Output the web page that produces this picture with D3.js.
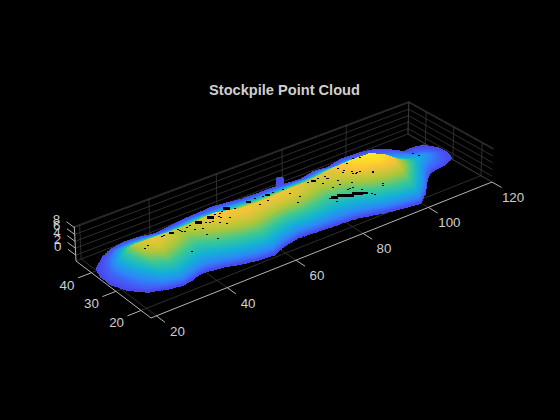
<!DOCTYPE html><html><head><meta charset="utf-8"><style>html,body{margin:0;background:#000}svg{display:block}text{font-family:"Liberation Sans",Arial,sans-serif}</style></head><body><svg id="c" width="560" height="420"></svg>
<script src="https://cdn.jsdelivr.net/npm/d3@7"></script>
<script>
const chartTitle="Stockpile Point Cloud";
const xLim=[18.5,120],yLim=[16.15,46.45],zLim=[-1.7,8.3];
const xTicks=[20,40,60,80,100,120],yTicks=[20,30,40],zTicks=[0,2,4,6,8];
// pile outline on the ground
const frontX=[18.5,20.3,23.5,28,31.9,35.3,37.9,40,44,47.9,52.2,56.5,60.6,65.7,70.8,75,82.7,89.1,95.4,99,103.1,108.3,110.8,115.6,119.4,120.3];
const frontY=[32.5,28.1,24.7,23,22.2,22.9,23.7,23.7,22.9,21.7,20.7,20.2,21.7,22.9,22.5,22.2,21.6,19.7,18.5,18,20.9,26.1,27.8,28.5,30,32.5];
const backX=[18.5,18.6,19.7,23.6,27.2,31.5,35.5,40,49.2,58.6,65.8,70.9,75.7,78.6,83.4,88.4,92.3,97.4,102.6,107,109.8,112.2,115.5,118.1,120.1,120.3];
const backY=[32.5,36.4,39.8,43,44.8,45.6,45.4,44.3,45.6,46.2,44.9,44.7,44.7,44.3,43.8,44.9,44.4,45.6,45.4,44.5,42.5,39.3,39.4,38.7,35.8,32.5];
// crest line of the pile
const ridgeX=[18.5,21,24,26.5,27.9,31.2,35.9,41,44.7,50.1,56,62.6,69.7,78.5,85,90.3,95.7,99,102.8,107.6,113.9,117.8,120.3];
const ridgeY=[34,35.5,36,36,35.2,33.8,34.4,35.4,34.5,33.9,32,32.1,32.4,33.9,34.3,33.3,32.5,30.8,29.8,30.9,33.2,33.3,32.5];
const ridgeZ=[-.6,.2,2.2,4.2,5.6,6.5,5.9,5.2,5.9,6.8,6.7,6.4,6.6,5.7,6.4,7.5,8,7.2,4.8,2.6,1,-.2,-.65];
const edgeZ=-.7;
// cross-section shape: share of crest height at a share of the way from crest to edge
const frontU=[0,.2,.35,.5,.65,.8,.92,.98,1],frontP=[1,.95,.84,.7,.56,.41,.27,.15,0];
const backU=[0,.1,.43,.81,1],backP=[1,.86,.5,.125,0];
// holes in the cloud
const speckX=[79.7,81,81.9,83.1,84.4,85.3,86.6,81.3,83.3,83.8,83.7,84.4,85,86.5,87.9,88.3,79.8,78.7,79.2,92.7,80.4,86.2,88,86.2,92.1,82.2,82.5,88.8,44.7,48.2,53.2,37.5,44,45.3,38.6,29.5,28.3,34.2,34.9,39.3,39.4,39.5,40,41.6,42.3,42.5,44.3,45.9,47.8,50.7,49.7,49.7,50.1,47,59.4,65,78.4,61.4,63.8,70.1,71.2,69.4,69.6,51.6,50.2,48.9,51.7,55.1,61.8,63.7,66.7,77.1,80.1,85.9,89.1,91.4,92.6,89.4,92.3,86.8,88.1,88.6,92.6,82.1,111.8,112.5];
const speckY=[26.1,25.8,25.1,24.7,24.4,23.7,23.3,28.7,28.6,29.9,26.1,26.3,25.9,24.4,22.3,21.8,25.9,26.7,24.8,24.1,31.4,27.7,29.5,31,27.1,32.8,32.1,29,33,33,33.7,33.9,29,26.4,27.5,32.3,31.8,33.3,33.4,33.9,33.2,32.6,32.2,33.4,33.3,31.6,30.8,31.9,31.6,32.7,33.4,31.9,29.3,31.8,33.3,33.2,32.6,31.4,31.4,30.9,28.6,27.2,33,33.2,31.7,30.4,30.2,32.8,33.8,33.2,33.1,33,32.9,32.6,33,33.5,32.4,28.5,27.3,31.3,29.9,29.1,23.9,32,35.2,33.8];
const speckZ=[4,4,4,4,4,4,4,4.8,5,5.6,4.6,4.8,4.8,4.4,4,3.8,3.8,3.8,3.4,4,5,5.2,6.3,6.3,6,5.7,5.6,6.3,6.2,6.6,6.7,5.6,5.3,5,3,6,5.6,6,6,5.8,5.8,5.8,5.8,6,6.1,6,6,6.3,6.3,6.7,6.7,6.6,6,6.2,6.6,6.6,6,6.2,6.2,6.4,6,5.6,6.7,6.7,6.5,6.2,6.4,6.7,6.6,6.5,6.6,6,6.1,6.8,7.2,7.6,7.7,6.6,6.4,6.5,6.4,6.3,3.8,5.8,.8,.6];
const speckS=[3,3,4,4,3,3,2,1,1,1,1,1,1,1,1,1,1,1,1,1,1,1,1,1,1,1,1,1,3,3,3,2,1,1,1,1,1,1,1,1,1,1,1,1,1,1,1,1,1,1,1,1,1,1,2,2,2,1,1,1,1,1,1,1,1,1,1,1,1,1,1,1,1,1,1,1,1,1,1,1,1,1,1,1,1,1];
// stray blue lump behind the crest
const lumpX=[79.3],lumpY=[46.4],lumpZ=[-.6];
// parula colormap
const cmapPos=[0,.127,.25,.38,.52,.67,.85,1];
const cmapCol=["#3e2aa8","#4852f4","#2d87f7","#12b1d6","#37c897","#abc739","#fec338","#f9fb14"];

// ---- camera: maps the unit box to the picture
const corner={F:[151,318],R:[492,182],B:[408,134],L:[76,261]};
const boxH=36,lean=.0075,leanU=300;
const {F,R,B,L}=corner;
const dx1=R[0]-B[0],dx2=L[0]-B[0],sx0=F[0]-R[0]+B[0]-L[0],dy1=R[1]-B[1],dy2=L[1]-B[1],sy0=F[1]-R[1]+B[1]-L[1];
const det=dx1*dy2-dx2*dy1,g=(sx0*dy2-dx2*sy0)/det,h=(dx1*sy0-sx0*dy1)/det;
const a=R[0]-F[0]+g*R[0],b=L[0]-F[0]+h*L[0],d=R[1]-F[1]+g*R[1],e=L[1]-F[1]+h*L[1];
const sX=d3.scaleLinear().domain(xLim).range([0,1]),sY=d3.scaleLinear().domain(yLim).range([0,1]),sZ=d3.scaleLinear().domain(zLim).range([0,1]);
function project(x,y,z){const s=sX(x),t=sY(y),w=sZ(z),W=g*s+h*t+1;
  const u=(a*s+b*t+F[0])/W,v=(d*s+e*t+F[1])/W;
  return [leanU+(u-leanU)*(1+lean*w),v-boxH*w/W];}

const svg=d3.select("#c");
const seg=(G,p,q,col,sw)=>{const A=project(...p),Bq=project(...q);G.append("line").attr("x1",A[0]).attr("y1",A[1]).attr("x2",Bq[0]).attr("y2",Bq[1]).attr("stroke",col).attr("stroke-width",sw);};
const [x0,x1]=xLim,[y0,y1]=yLim,[z0,z1]=zLim;
const gridCol="#3a3a3a",axisCol="#b4b4b4",textCol="#cfcfcf";
const grid=svg.append("g");
xTicks.forEach(t=>{seg(grid,[t,y0,z0],[t,y1,z0],gridCol,.8);seg(grid,[t,y1,z0],[t,y1,z1],gridCol,.8);});
yTicks.forEach(t=>{seg(grid,[x0,t,z0],[x1,t,z0],gridCol,.8);seg(grid,[x1,t,z0],[x1,t,z1],gridCol,.8);});
zTicks.forEach(t=>{seg(grid,[x0,y1,t],[x1,y1,t],gridCol,.8);seg(grid,[x1,y1,t],[x1,y0,t],gridCol,.8);});
seg(grid,[x0,y1,z1],[x1,y1,z1],gridCol,.8);seg(grid,[x1,y1,z1],[x1,y0,z1],gridCol,.8);
seg(grid,[x0,y1,z0],[x1,y1,z0],gridCol,.8);seg(grid,[x1,y1,z0],[x1,y0,z0],gridCol,.8);seg(grid,[x1,y1,z0],[x1,y1,z1],gridCol,.8);

// cloud: sampled far to near, last one into a pixel wins
const yFront=d3.scaleLinear().domain(frontX).range(frontY).clamp(true);
const yBack=d3.scaleLinear().domain(backX).range(backY).clamp(true);
const yRidge=d3.scaleLinear().domain(ridgeX).range(ridgeY).clamp(true);
const zRidge=d3.scaleLinear().domain(ridgeX).range(ridgeZ).clamp(true);
const pFront=d3.scaleLinear().domain(frontU).range(frontP).clamp(true);
const pBack=d3.scaleLinear().domain(backU).range(backP).clamp(true);
const color=d3.scaleLinear().domain(cmapPos).range(cmapCol).clamp(true);
const nBins=96,W0=560,H0=420,buf=new Int16Array(W0*H0).fill(-1);
const bin=z=>Math.max(0,Math.min(nBins-1,Math.round(sZ(z)*(nBins-1))));
for(let x=120.3;x>=18.5;x-=.08){
  const yF=yFront(x),yB=yBack(x),yR=Math.min(yB,Math.max(yF,yRidge(x))),zR=zRidge(x);
  for(let y=yB;y>=yF;y-=.04){
    const p=y>=yR?pBack((y-yR)/Math.max(.01,yB-yR)):pFront((yR-y)/Math.max(.01,yR-yF));
    const z=edgeZ+(zR-edgeZ)*p,c=bin(z),q=project(x,y,z);
    const px=Math.round(q[0]),py=Math.round(q[1]);
    buf[py*W0+px]=c;buf[(py+1)*W0+px]=c;
  }
}
lumpX.forEach((x,i)=>{const q=project(x,lumpY[i],lumpZ[i]);
  svg.append("rect").attr("x",Math.round(q[0])-4).attr("y",Math.round(q[1])-2).attr("width",8).attr("height",10).attr("rx",1.5).attr("fill",color(sZ(lumpZ[i])));});
const runs=d3.range(nBins).map(()=>[]);
for(let r=0;r<H0;r++){let i=0;while(i<W0){const c=buf[r*W0+i];if(c<0){i++;continue;}let j=i;while(j<W0&&buf[r*W0+j]===c)j++;runs[c].push(`M${i} ${r}h${j-i}v1h${i-j}z`);i=j;}}
svg.append("g").attr("shape-rendering","crispEdges").selectAll("path").data(runs).join("path").attr("d",r=>r.join("")).attr("fill",(r,i)=>color(i/(nBins-1)));
// holes
svg.append("g").attr("shape-rendering","crispEdges").selectAll("rect").data(speckX).join("rect")
 .each(function(x,i){const q=project(x,speckY[i],speckZ[i]),s=speckS[i],w=s>1?s*2+1:2,hh=s>1?Math.min(s,3):1;
  d3.select(this).attr("x",Math.round(q[0]-w/2)).attr("y",Math.round(q[1]-hh/2)).attr("width",w).attr("height",hh).attr("fill","#000");});

// axes
const ax=svg.append("g");
seg(ax,[x0,y0,z0],[x1,y0,z0],axisCol,1);seg(ax,[x0,y0,z0],[x0,y1,z0],axisCol,1);seg(ax,[x0,y1,z0],[x0,y1,z1],axisCol,1);
const label=(p,dx,dy,t)=>{const q=project(...p);ax.append("text").attr("x",q[0]+dx).attr("y",q[1]+dy).attr("text-anchor","middle").attr("dominant-baseline","central").attr("font-size","13.33px").attr("fill",textCol).text(t);};
xTicks.forEach(t=>{seg(ax,[t,y0,z0],[t,y0-3.3,z0],axisCol,1);label([t,y0,z0],21,15.5,t);});
yTicks.forEach(t=>{seg(ax,[x0,t,z0],[x0-3.8,t,z0],axisCol,1);label([x0,t,z0],-24.5,12.5,t);});
zTicks.forEach(t=>{seg(ax,[x0,y1,t],[x0,y1+3.3,t],axisCol,1);label([x0,y1,t],-18,-8.5,t);});
svg.append("text").attr("x",284.5).attr("y",89.5).attr("text-anchor","middle").attr("dominant-baseline","central").attr("font-size","14.6px").attr("font-weight","bold").attr("fill",textCol).text(chartTitle);
</script></body></html>
